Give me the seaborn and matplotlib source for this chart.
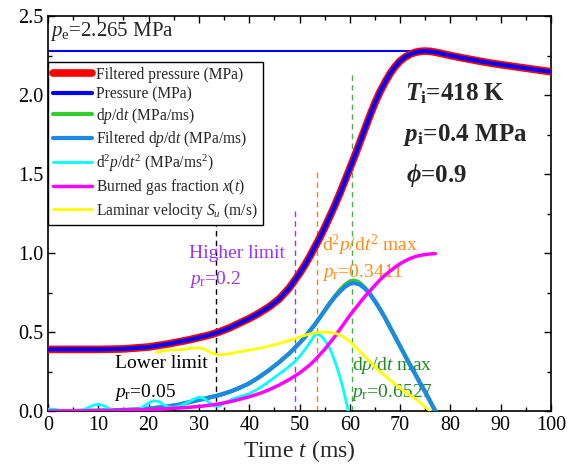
import numpy as np
import pandas as pd
import matplotlib
matplotlib.use("Agg")
import matplotlib.pyplot as plt
import seaborn as sns
from matplotlib.ticker import MultipleLocator

# ---------------- data ----------------
p_t = [0, 5, 10, 15, 20, 24, 28, 32, 34, 36, 38, 40, 42, 44, 46, 48, 49, 50, 51, 52, 53,
       54, 55, 56, 57, 58, 59, 60, 61, 62, 63, 64, 65, 66, 67, 68, 69, 70, 71, 72, 73, 74,
       75, 76, 77, 78, 80, 82, 84, 86, 88, 90, 92, 94, 96, 98, 100]
p_val = [0.39, 0.39, 0.39, 0.393, 0.405, 0.425, 0.45, 0.48, 0.50, 0.525, 0.555, 0.585,
         0.62, 0.66, 0.71, 0.78, 0.825, 0.87, 0.92, 0.975, 1.035, 1.095, 1.16, 1.23, 1.30,
         1.375, 1.455, 1.535, 1.615, 1.70, 1.785, 1.87, 1.95, 2.02, 2.08, 2.135, 2.18,
         2.215, 2.24, 2.258, 2.27, 2.276, 2.278, 2.276, 2.271, 2.264, 2.25, 2.237, 2.225,
         2.213, 2.202, 2.192, 2.183, 2.174, 2.165, 2.156, 2.147]

dp_t = [0, 5, 10, 15, 18, 20, 22, 24, 26, 28, 30, 32, 34, 36, 38, 40, 42, 44, 46, 48, 50,
        51, 52, 53, 54, 55, 56, 57, 58, 59, 60, 60.7, 61.5, 62, 63, 64, 65, 66, 67, 68, 69,
        70, 71, 72, 73, 74, 75, 76, 77]
dp_filt = [0.0, 0.0, 0.002, 0.006, 0.01, 0.015, 0.022, 0.03, 0.04, 0.055, 0.07, 0.085,
           0.10, 0.12, 0.145, 0.175, 0.215, 0.26, 0.31, 0.365, 0.43, 0.465, 0.505, 0.545,
           0.59, 0.635, 0.68, 0.72, 0.755, 0.785, 0.805, 0.81, 0.805, 0.80, 0.775, 0.74,
           0.695, 0.645, 0.59, 0.53, 0.47, 0.41, 0.35, 0.29, 0.235, 0.175, 0.12, 0.06, 0.0]
dp_raw = [0.0, 0.0, 0.002, 0.006, 0.01, 0.015, 0.022, 0.03, 0.04, 0.055, 0.07, 0.085,
          0.10, 0.12, 0.145, 0.175, 0.215, 0.26, 0.31, 0.365, 0.43, 0.465, 0.505, 0.545,
          0.59, 0.635, 0.682, 0.725, 0.765, 0.797, 0.82, 0.826, 0.82, 0.81, 0.78, 0.742,
          0.695, 0.645, 0.59, 0.53, 0.47, 0.41, 0.35, 0.29, 0.235, 0.175, 0.12, 0.06, 0.0]

d2_t = [0, 1, 2, 3, 6, 7, 8, 9, 10, 11, 12, 13, 14, 17, 18, 19, 20, 21, 22, 23, 24, 25,
        26, 27, 28, 29, 30, 31, 32, 33, 34, 35, 36, 37, 38.5, 40, 41.5, 43, 44.5, 46, 47.5,
        49, 50, 51, 52, 52.7, 53.3, 54.2, 55, 55.8, 56.5, 57.2, 58, 58.6, 59.2, 59.7]
d2_val = [0.012, 0.012, 0.006, 0.0, 0.0, 0.008, 0.022, 0.036, 0.042, 0.035, 0.018, 0.005,
          0.0, 0.0, 0.008, 0.03, 0.05, 0.065, 0.06, 0.04, 0.025, 0.022, 0.03, 0.042, 0.058,
          0.075, 0.088, 0.08, 0.055, 0.032, 0.03, 0.048, 0.065, 0.08, 0.095, 0.11, 0.135,
          0.165, 0.20, 0.235, 0.27, 0.31, 0.345, 0.385, 0.43, 0.465, 0.49, 0.478, 0.45,
          0.41, 0.36, 0.30, 0.22, 0.15, 0.07, 0.0]

x_t = [0, 5, 10, 15, 20, 25, 28, 31, 34, 36, 38, 40, 42, 44, 46, 48, 50, 51, 52, 53, 54,
       55, 56, 57, 58, 59, 60, 61, 62, 63, 64, 65, 66, 67, 68, 69, 70, 71, 72, 73, 74, 75,
       76, 77]
x_val = [0.0, 0.0, 0.002, 0.005, 0.009, 0.017, 0.023, 0.032, 0.045, 0.058, 0.073, 0.09,
         0.11, 0.135, 0.165, 0.20, 0.24, 0.265, 0.29, 0.32, 0.355, 0.39, 0.43, 0.47, 0.515,
         0.56, 0.605, 0.645, 0.685, 0.725, 0.76, 0.795, 0.83, 0.86, 0.885, 0.91, 0.932,
         0.95, 0.965, 0.977, 0.985, 0.99, 0.994, 0.996]

su_t = [21.5, 22.5, 24, 25.5, 27, 28.5, 29.5, 30.5, 31.5, 32.5, 33.5, 34.5, 36, 37.5, 40,
        43, 46, 48, 50, 51.5, 53, 54.5, 56, 57.5, 59, 60, 61, 62, 63, 64, 65, 66, 67, 68,
        69, 70, 71, 72, 73, 74, 75, 76]
su_val = [0.37, 0.378, 0.385, 0.387, 0.39, 0.397, 0.40, 0.397, 0.385, 0.368, 0.356, 0.355,
          0.362, 0.372, 0.385, 0.403, 0.428, 0.447, 0.468, 0.483, 0.494, 0.50, 0.498,
          0.488, 0.465, 0.44, 0.41, 0.378, 0.345, 0.312, 0.28, 0.25, 0.222, 0.196, 0.17,
          0.145, 0.122, 0.10, 0.078, 0.052, 0.025, 0.0]

pe_t = [0, 76.5]
pe_val = [2.28, 2.28]

marker_t = [33.4, 49.2, 53.4, 60.4]
marker_top = [1.5, 1.29, 1.54, 2.14]

# ---------------- style ----------------
sns.set_theme(style="ticks")
plt.rcParams["font.family"] = ["Liberation Serif", "DejaVu Serif"]
plt.rcParams["mathtext.fontset"] = "custom"
plt.rcParams["mathtext.rm"] = "Liberation Serif"
plt.rcParams["mathtext.it"] = "Liberation Serif:italic"
plt.rcParams["mathtext.bf"] = "Liberation Serif:bold"
plt.rcParams["mathtext.bfit"] = "Liberation Serif:bold:italic"

fig = plt.figure(figsize=(5.68, 4.73), dpi=100)
ax = fig.add_axes([48 / 568, 1 - 411 / 473, (551 - 48) / 568, (411 - 16) / 473])

# reference lines (pe and markers)
sns.lineplot(x=pe_t, y=pe_val, ax=ax, color="#0000FF", lw=1.5, zorder=2)
ax.vlines(marker_t, 0, marker_top, colors=["#000000", "#9933FF", "#FF8000", "#4CAF50"],
          linestyles=(0, (4, 3)), lw=1.0, zorder=1)

sns.lineplot(x=p_t, y=p_val, ax=ax, color="#FF0000", lw=5.5, zorder=3,
             label="Filtered pressure (MPa)")
sns.lineplot(x=p_t, y=p_val, ax=ax, color="#0000FF", lw=3.0, zorder=4,
             label="Pressure (MPa)")
sns.lineplot(x=dp_t, y=dp_raw, ax=ax, color="#33CC33", lw=3.0, zorder=3,
             label="d$p$/d$t$ (MPa/ms)")
sns.lineplot(x=dp_t, y=dp_filt, ax=ax, color="#1E88E5", lw=3.0, zorder=4,
             label="Filtered d$p$/d$t$ (MPa/ms)")
sns.lineplot(x=d2_t, y=d2_val, ax=ax, color="#00FFFF", lw=2.0, zorder=4,
             label="d$^2p$/d$t^2$ (MPa/ms$^2$)")
sns.lineplot(x=x_t, y=x_val, ax=ax, color="#FF00FF", lw=2.5, zorder=4,
             label="Burned gas fraction $x(t)$")
sns.lineplot(x=su_t, y=su_val, ax=ax, color="#FFFF00", lw=2.0, zorder=4,
             label="Laminar velocity $S_u$ (m/s)")

ax.set_xlim(0, 100)
ax.set_ylim(0, 2.5)
ax.xaxis.set_major_locator(MultipleLocator(10))
ax.xaxis.set_minor_locator(MultipleLocator(5))
ax.yaxis.set_major_locator(MultipleLocator(0.5))
ax.yaxis.set_minor_locator(MultipleLocator(0.25))
ax.yaxis.set_major_formatter(matplotlib.ticker.FormatStrFormatter("%.1f"))
ax.tick_params(which="both", direction="in", top=True, right=True, labelsize=14.5,
               colors="black", width=1.0)
ax.tick_params(which="major", length=5)
ax.tick_params(which="minor", length=3)
for s in ax.spines.values():
    s.set_color("black")
    s.set_linewidth(1.2)
ax.set_xlabel("Time $t$ (ms)", fontsize=17, labelpad=2)
ax.set_ylabel("")

leg = ax.legend(loc="upper left", bbox_to_anchor=(0, 0.8835), fontsize=11.2,
                frameon=True, fancybox=False, edgecolor="black", framealpha=1,
                borderaxespad=0, handlelength=2.5, handletextpad=0.3,
                labelspacing=0.22, borderpad=0.3)
leg.get_frame().set_linewidth(1.0)
leg.set_zorder(10)

# annotations
ax.text(0.3, 2.40, "$p_{\\mathrm{e}}$=2.265 MPa", fontsize=15, va="center", ha="left")
ax.text(28.0, 1.0, "Higher limit", color="#9933FF", fontsize=14, va="center")
ax.text(28.0, 0.83, "$p_{\\mathrm{r}}$=0.2", color="#9933FF", fontsize=14, va="center")
ax.text(54.4, 1.05, "d$^2p$/d$t^2$ max", color="#FF8C1A", fontsize=14, va="center")
ax.text(54.4, 0.875, "$p_{\\mathrm{r}}$=0.3411", color="#FF8C1A", fontsize=14, va="center")
ax.text(13.3, 0.30, "Lower limit", color="black", fontsize=14, va="center")
ax.text(13.2, 0.12, "$p_{\\mathrm{r}}$=0.05", color="black", fontsize=14, va="center")
ax.text(60.4, 0.29, "d$p$/d$t$ max", color="#228B22", fontsize=14, va="center")
ax.text(60.2, 0.12, "$p_{\\mathrm{r}}$=0.6527", color="#228B22", fontsize=14, va="center")

ax.text(71.0, 2.01, "$\\mathbfit{T}_{\\mathbf{i}}$=418 K", fontsize=18, fontweight="bold",
        va="center")
ax.text(70.6, 1.75, "$\\mathbfit{p}_{\\mathbf{i}}$=0.4 MPa", fontsize=18, fontweight="bold",
        va="center")
ax.text(71.2, 1.49, "$\\mathbfit{\\phi}$=0.9", fontsize=18, fontweight="bold", va="center")

fig.savefig("out.png", dpi=100)
